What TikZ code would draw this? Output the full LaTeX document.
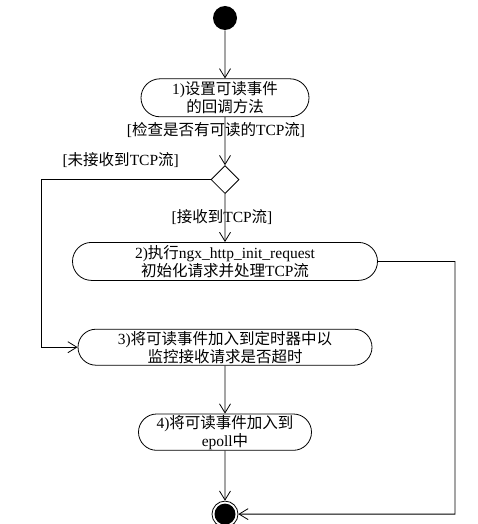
\documentclass[tikz,border=0pt]{standalone}
\usepackage{fontspec}
\setmainfont{Liberation Serif}
\newfontfamily\cjk{Noto Sans CJK SC}
\usetikzlibrary{positioning,shapes.misc,shapes.geometric,arrows.meta}

\begin{document}
\begin{tikzpicture}[x=1pt, y=-1pt, node distance={48pt}, thick,
  >={Straight Barb[length=9pt,width=11pt]},
  font=\fontsize{15.5}{18}\selectfont,
  main/.style = {draw, rounded rectangle, align=center, minimum height=38pt, inner sep=1pt},
  dot/.style = {circle, fill, minimum size=24pt, inner sep=0pt},
  fin/.style = {circle, draw, minimum size=26pt, inner sep=0pt, path picture={\fill (path picture bounding box.center) circle (10.5pt);}},
  branch/.style = {draw, diamond, minimum size=28pt, inner sep=0pt}]
\useasboundingbox (0,0) rectangle (478,524);
\node[dot] (s) at (225,18) {};
\node[main, minimum width=170pt] (1) [below=of s] {1){\cjk 设置可读事件}\\{\cjk 的回调方法}};
\node[branch] (d) [below=of 1] {};
\node[main, minimum width=307pt] (2) [below=of d] {2){\cjk 执行}ngx\_http\_init\_request\\{\cjk 初始化请求并处理}TCP{\cjk 流}};
\node[main, minimum width=296pt, minimum height=36pt] (3) [below=of 2] {3){\cjk 将可读事件加入到定时器中以}\\{\cjk 监控接收请求是否超时}};
\node[main, minimum width=175pt, minimum height=36pt] (4) [below=of 3] {4){\cjk 将可读事件加入到}\\epoll{\cjk 中}};
\node[fin] (e) [below=50pt of 4] {};
\coordinate (left) at (41,0);
\coordinate (right) at (455,0);
\draw[->] (s) -- (1);
\draw[->] (1) -- node[pos=0.26, xshift=-9pt] {[{\cjk 检查是否有可读的}TCP{\cjk 流}]} (d);
\draw[->] (d) -- node[pos=0.48, xshift=-3pt] {[{\cjk 接收到}TCP{\cjk 流}]} (2);
\draw[->] (d) -- node[pos=0.53, above=8pt] {[{\cjk 未接收到}TCP{\cjk 流}]} (d -| left) |- (3);
\draw[->] (2) -- (2 -| right) |- (e);
\draw[->] (3) -- (4);
\draw[->] (4) -- (e);
\end{tikzpicture}
\end{document}
